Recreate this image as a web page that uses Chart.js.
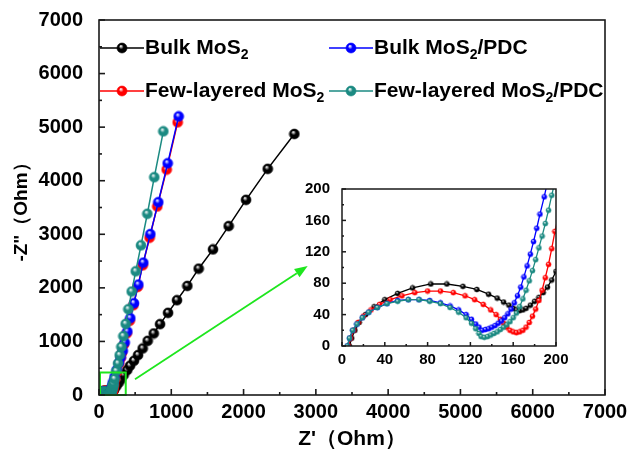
<!DOCTYPE html>
<html><head><meta charset="utf-8">
<script src="https://cdn.jsdelivr.net/npm/chart.js@4.4.0/dist/chart.umd.min.js"></script>
<style>
html,body{margin:0;padding:0;background:#fff;}
#wrap{position:relative;width:632px;height:459px;overflow:hidden;}
#main{position:absolute;left:0;top:0;}
#inset{position:absolute;left:296px;top:175px;}
</style></head><body>
<div id="wrap"><canvas id="main" width="632" height="459"></canvas><canvas id="inset" width="280" height="196"></canvas></div>
<script>
// ---- data (Z' , -Z'' in Ohm) ----
const seriesLabels = ['Bulk MoS₂', 'Bulk MoS₂/PDC', 'Few-layered MoS₂', 'Few-layered MoS₂/PDC'];
const seriesColors = ['#000000', '#0000ff', '#ff0000', '#1b8a82'];

const bulkX = [7,9,12,16,22,30,40,52,66,83,98,113,126,137,145,151,156,160,163,166,169,172,176,180,184,188,192,196,200,206,215,240,270,300,340,390,429,484,540,604,673,757,844,955,1079,1222,1379,1577,1794,2034,2334,2702];
const bulkY = [0,10,20,30,40,50,59,67,74,79,79,76,72,66,61,56,52,48,46,45,46,48,52,57,62,68,75,84,95,108,125,170,225,290,370,465,546,639,745,869,1011,1148,1322,1533,1769,2036,2358,2718,3153,3643,4221,4872];

const bulkPdcX = [5,7,10,14,19,25,33,42,52,62,72,82,92,101,109,116,121,125,128,131,134,137,140,143,146,149,152,155,158,161,164,167,170,173,176,179,182,185,189,193,200,215,245,275,300,328,355,392,433,484,544,613,710,820,950,1102];
const bulkPdcY = [0,10,20,28,36,43,49,54,58,59,59,58,55,51,46,40,34,28,24,20,21,22,24,26,29,32,36,41,47,55,64,75,88,102,117,133,150,168,190,215,255,340,470,600,705,825,981,1186,1434,1713,2061,2470,3003,3599,4325,5200];

const fewX = [6,8,11,15,20,27,35,45,56,68,80,92,104,115,124,132,139,144,148,151,154,157,160,163,166,169,172,175,178,181,184,187,190,193,196,199,203,210,225,250,280,300,318,346,383,424,475,535,604,700,806,936,1088];
const fewY = [0,10,20,30,38,46,53,59,64,68,70,70,68,64,59,53,46,40,34,29,24,20,18,17,18,20,24,30,38,47,58,71,87,104,124,146,170,215,300,430,590,690,788,944,1148,1384,1676,2016,2420,2936,3519,4208,5089];

const fewPdcX = [5,7,10,14,19,25,33,42,52,62,72,82,92,101,109,116,121,125,128,130,133,136,139,142,145,148,151,154,157,160,163,166,169,172,175,178,181,184,187,190,193,196,200,215,240,263,286,309,337,369,406,452,508,581,669,765,890];
const fewPdcY = [0,10,20,28,36,43,49,54,57,59,59,57,54,49,43,36,29,22,16,12,11,12,14,16,18,21,24,27,31,36,42,50,60,71,83,96,110,125,140,156,173,192,215,300,450,590,745,899,1098,1328,1601,1931,2309,2793,3383,4065,4921];

// axis ranges / ticks
const mainRange = [0, 7000], mainStep = 1000;
const insetRange = [0, 200], insetStep = 40;
// zoom box [x0,x1,y0,y1] and arrow [x0,y0,x1,y1] in main-axis data units
const zoomBox = [0, 370, 0, 420];
const zoomArrow = [498, 292, 2887, 2407];

const seriesX = [bulkX, bulkPdcX, fewX, fewPdcX];
const seriesY = [bulkY, bulkPdcY, fewY, fewPdcY];
const drawOrder = [3, 1, 2, 0];

function ball(color, r) {
  const s = Math.ceil(r * 2 + 2);
  const c = document.createElement('canvas');
  c.width = s; c.height = s;
  const g = c.getContext('2d');
  const cx = s / 2, cy = s / 2;
  const grad = g.createRadialGradient(cx - r * 0.25, cy - r * 0.4, r * 0.05, cx, cy, r);
  grad.addColorStop(0, '#ffffff');
  grad.addColorStop(0.45, color);
  grad.addColorStop(1, color);
  g.beginPath(); g.arc(cx, cy, r, 0, Math.PI * 2);
  g.fillStyle = grad; g.fill();
  g.lineWidth = 0.6; g.strokeStyle = color; g.stroke();
  return c;
}

function makeDatasets(r, lw) {
  return seriesLabels.map((lab, i) => ({
    label: lab,
    data: seriesX[i].map((x, k) => ({ x: x, y: seriesY[i][k] })),
    borderColor: seriesColors[i],
    backgroundColor: seriesColors[i],
    borderWidth: lw,
    pointStyle: ball(seriesColors[i], r),
    pointRadius: r,
    tension: 0,
    order: drawOrder[i],
  }));
}

const FONT = '"Liberation Sans", Arial, sans-serif';
const plainNum = v => String(v);

function frameTicksPlugin(major, minor, lw) {
  return {
    id: 'frameTicks',
    afterDraw(chart) {
      const { ctx, chartArea: a, scales } = chart;
      ctx.save();
      ctx.strokeStyle = '#1a1a1a';
      ctx.lineWidth = lw;
      const line = (x1, y1, x2, y2) => { ctx.beginPath(); ctx.moveTo(x1, y1); ctx.lineTo(x2, y2); ctx.stroke(); };
      const xs = scales.x, ys = scales.y;
      xs.ticks.forEach((t, i) => {
        const p = xs.getPixelForValue(t.value);
        line(p, a.bottom, p, a.bottom - major);
        if (i < xs.ticks.length - 1) {
          const m = xs.getPixelForValue((t.value + xs.ticks[i + 1].value) / 2);
          line(m, a.bottom, m, a.bottom - minor);
        }
      });
      ys.ticks.forEach((t, i) => {
        const p = ys.getPixelForValue(t.value);
        line(a.left, p, a.left + major, p);
        if (i < ys.ticks.length - 1) {
          const m = ys.getPixelForValue((t.value + ys.ticks[i + 1].value) / 2);
          line(a.left, m, a.left + minor, m);
        }
      });
      ctx.strokeRect(a.left, a.top, a.right - a.left, a.bottom - a.top);
      ctx.restore();
    }
  };
}

const zoomPlugin = {
  id: 'zoomMark',
  afterDatasetsDraw(chart) {
    const { ctx, scales: { x, y } } = chart;
    ctx.save();
    ctx.strokeStyle = '#1ee61e'; ctx.fillStyle = '#1ee61e';
    ctx.lineWidth = 2;
    const bx0 = x.getPixelForValue(zoomBox[0]), bx1 = x.getPixelForValue(zoomBox[1]);
    const by0 = y.getPixelForValue(zoomBox[2]), by1 = y.getPixelForValue(zoomBox[3]);
    ctx.strokeRect(bx0 + 1, by1, bx1 - bx0 - 1, by0 - by1);
    const ax0 = x.getPixelForValue(zoomArrow[0]), ay0 = y.getPixelForValue(zoomArrow[1]);
    const ax1 = x.getPixelForValue(zoomArrow[2]), ay1 = y.getPixelForValue(zoomArrow[3]);
    const ang = Math.atan2(ay1 - ay0, ax1 - ax0);
    const hl = 13, hw = 5;
    const bxp = ax1 - hl * Math.cos(ang), byp = ay1 - hl * Math.sin(ang);
    ctx.lineWidth = 1.8;
    ctx.beginPath(); ctx.moveTo(ax0, ay0); ctx.lineTo(bxp, byp); ctx.stroke();
    ctx.beginPath();
    ctx.moveTo(ax1, ay1);
    ctx.lineTo(bxp + hw * Math.sin(ang), byp - hw * Math.cos(ang));
    ctx.lineTo(bxp - hw * Math.sin(ang), byp + hw * Math.cos(ang));
    ctx.closePath(); ctx.fill();
    ctx.restore();
  }
};

const legendPlugin = {
  id: 'customLegend',
  afterDraw(chart) {
    const { ctx, chartArea: a } = chart;
    const pos = [[a.left + 1, a.top + 28], [a.left + 230, a.top + 28], [a.left + 1, a.top + 71], [a.left + 230, a.top + 71]];
    ctx.save();
    chart.data.datasets.forEach((ds, i) => {
      const [px, py] = pos[i];
      ctx.strokeStyle = ds.borderColor; ctx.lineWidth = 1.5;
      ctx.beginPath(); ctx.moveTo(px, py); ctx.lineTo(px + 44, py); ctx.stroke();
      const img = ds.pointStyle;
      ctx.drawImage(img, px + 22 - img.width / 2, py - img.height / 2);
      let tx = px + 45;
      ctx.fillStyle = '#000';
      ctx.textBaseline = 'middle';
      ctx.textAlign = 'left';
      const parts = ds.label.split('₂');
      parts.forEach((p, k) => {
        ctx.font = 'bold 21px ' + FONT;
        ctx.fillText(p, tx, py);
        tx += ctx.measureText(p).width;
        if (k < parts.length - 1) {
          ctx.font = 'bold 14px ' + FONT;
          ctx.fillText('2', tx, py + 7);
          tx += ctx.measureText('2').width;
        }
      });
    });
    ctx.restore();
  }
};

new Chart(document.getElementById('main'), {
  type: 'line',
  data: { datasets: makeDatasets(5, 1.5) },
  options: {
    responsive: false, animation: false, events: [],
    layout: { padding: { top: 19, right: 27, left: 0, bottom: 0 } },
    plugins: { legend: { display: false }, tooltip: { enabled: false } },
    scales: {
      x: {
        type: 'linear', min: mainRange[0], max: mainRange[1],
        grid: { display: false }, border: { display: false },
        ticks: { stepSize: mainStep, callback: plainNum, color: '#000', padding: -3, maxRotation: 0, font: { family: FONT, size: 20, weight: 'bold' } },
        title: { display: true, text: "Z'（Ohm）", color: '#000', padding: { top: 0, bottom: 7 }, font: { family: FONT, size: 21, weight: 'bold' } },
        afterFit(s) { s.height = 64; }
      },
      y: {
        type: 'linear', min: mainRange[0], max: mainRange[1],
        grid: { display: false }, border: { display: false },
        ticks: { stepSize: mainStep, callback: plainNum, color: '#000', padding: 8, font: { family: FONT, size: 20, weight: 'bold' } },
        title: { display: true, text: '-Z"（Ohm）', color: '#000', padding: { top: 10, bottom: 0 }, font: { family: FONT, size: 19, weight: 'bold' } },
        afterFit(s) { s.width = 99; }
      }
    }
  },
  plugins: [frameTicksPlugin(6, 3, 1.6), zoomPlugin, legendPlugin]
});

new Chart(document.getElementById('inset'), {
  type: 'line',
  data: { datasets: makeDatasets(2.5, 1.3).map(d => Object.assign(d, { clip: 0 })) },
  options: {
    responsive: false, animation: false, events: [],
    layout: { padding: { top: 14, right: 20, left: 0, bottom: 0 } },
    plugins: { legend: { display: false }, tooltip: { enabled: false } },
    scales: {
      x: {
        type: 'linear', min: insetRange[0], max: insetRange[1],
        grid: { display: false }, border: { display: false },
        ticks: { stepSize: insetStep, callback: plainNum, color: '#000', padding: -3, maxRotation: 0, font: { family: FONT, size: 15, weight: 'bold' } },
        afterFit(s) { s.height = 25; }
      },
      y: {
        type: 'linear', min: insetRange[0], max: insetRange[1],
        grid: { display: false }, border: { display: false },
        ticks: { stepSize: insetStep, callback: plainNum, color: '#000', padding: 4, font: { family: FONT, size: 15, weight: 'bold' } },
        afterFit(s) { s.width = 46; }
      }
    }
  },
  plugins: [frameTicksPlugin(4, 2, 1.5)]
});
</script>
</body></html>
